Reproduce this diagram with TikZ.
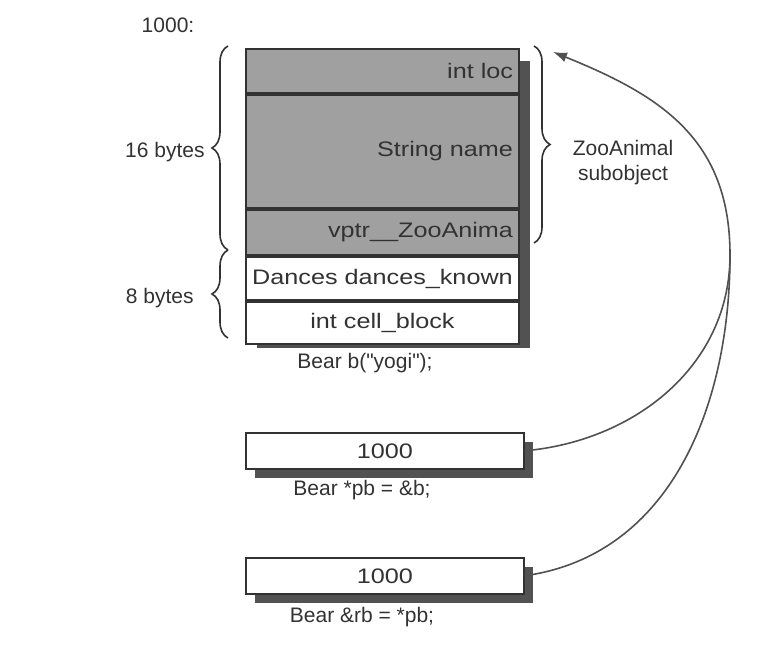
\documentclass[tikz,border=0pt]{standalone}
\usepackage{fontspec}
\setmainfont{Liberation Sans}
\newfontfamily\cellfont[FakeStretch=1.2]{Liberation Sans}
\usepackage{tikz}
\usetikzlibrary{
  arrows.meta,
  positioning,
  decorations.pathreplacing
}
\definecolor{cellgray}{RGB}{160,160,160}
\definecolor{shadowgray}{RGB}{82,82,82}
\definecolor{inkgray}{RGB}{50,50,50}

\begin{document}
\begin{tikzpicture}[x=0.5pt, y=0.5pt,
  cell/.style={draw=inkgray, line width=1pt, anchor=north west, minimum width=136.5pt,
    text width=130.5pt, inner xsep=3pt, inner ysep=0pt, text=inkgray,
    font=\cellfont\fontsize{10.5}{12}\selectfont},
  graycell/.style={cell, fill=cellgray, align=right},
  whitecell/.style={cell, fill=white, align=center},
  ptrbox/.style={draw=inkgray, line width=0.8pt, fill=white, anchor=north west,
    minimum width=139pt, minimum height=18pt, inner sep=0pt, text=inkgray,
    font=\cellfont\fontsize{10.5}{12}\selectfont},
  lbl/.style={text=inkgray, font=\fontsize{10.5}{12.5}\selectfont, inner sep=1pt},
  brace/.style={draw=inkgray, line width=0.8pt, decorate, decoration={brace, amplitude=8pt}},
  ptrline/.style={draw=inkgray!85, line width=0.8pt}]
  \useasboundingbox (0,0) rectangle (780,657);

  % Bear object b
  \fill[shadowgray] (257,596) rectangle (530,309);
  \node[graycell, minimum height=22pt] (loc) at (245,609) {int loc};
  \node[graycell, minimum height=56.5pt, below=0pt of loc] (name) {String name};
  \node[graycell, minimum height=22.5pt, below=0pt of name] (vptr) {vptr\_\_ZooAnima};
  \node[whitecell, minimum height=21.5pt, below=0pt of vptr] (dances) {Dances dances\_known};
  \node[whitecell, minimum height=21pt, below=0pt of dances] (cellblock) {int cell\_block};
  \node[lbl] (bearb) at (365,294) {Bear b(\textquotedbl yogi\textquotedbl);};
  \node[lbl] (addr) at (168,632) {1000:};

  % sizes and subobject
  \draw[brace] (228,407) -- (228,611);
  \draw[brace] (228,319) -- (228,407);
  \draw[brace] (534,611) -- (534,414);
  \node[lbl, anchor=east] (sixteen) at (207,505) {16 bytes};
  \node[lbl, anchor=east] (eight) at (196,359) {8 bytes};
  \node[lbl, align=center] (zoo) at (623,494) {ZooAnimal\\subobject};

  % pointer and reference
  \fill[shadowgray] (255,215) rectangle (533,179);
  \node[ptrbox] (pb) at (245,225) {1000};
  \node[lbl] (pblbl) at (362,167) {Bear *pb = \&b;};
  \fill[shadowgray] (255,90) rectangle (533,54);
  \node[ptrbox] (rb) at (245,100) {1000};
  \node[lbl] (rblbl) at (362,40) {Bear \&rb = *pb;};

  \coordinate (tip) at (553,605);
  \coordinate (bend) at (730,402);
  \draw[ptrline, -{Latex[length=7pt,width=5pt]}] (pb.east) to[out=5, in=-90] (bend)
    to[out=90, in=-22, looseness=1.1] (tip);
  \draw[ptrline] (rb.east) to[out=8, in=-90] (bend);
\end{tikzpicture}
\end{document}
